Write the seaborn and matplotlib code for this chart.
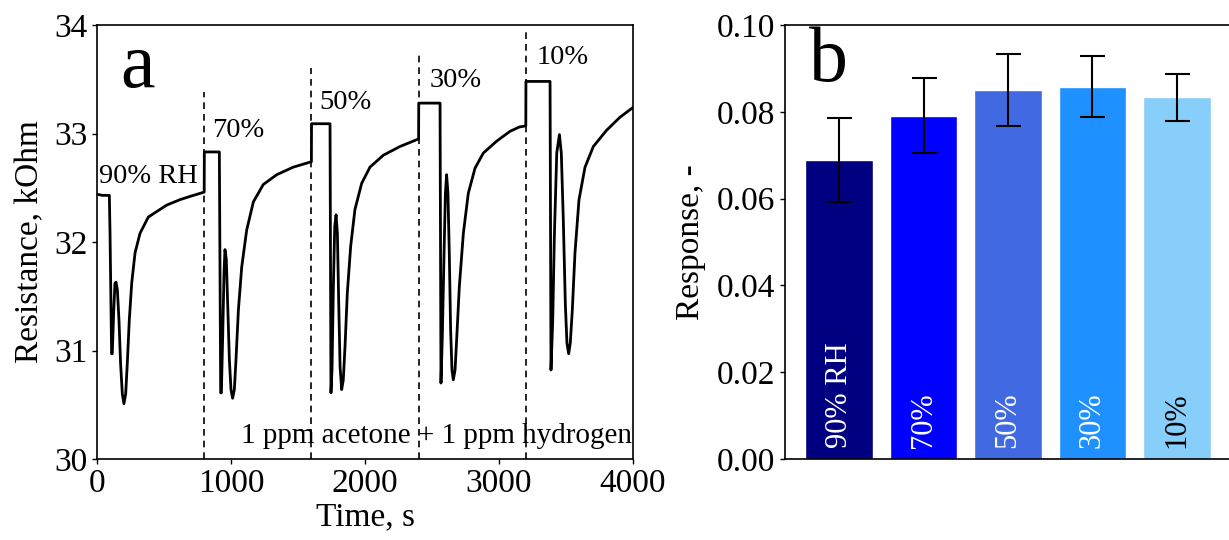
import numpy as np
import pandas as pd
import matplotlib
matplotlib.use("Agg")
import matplotlib.pyplot as plt
import seaborn as sns

# ---------------- data: panel a (resistance transient) ----------------
time_s = [
    0, 40, 92, 97, 109, 114, 124, 134, 142, 152, 164, 176, 189, 201, 214, 226, 241, 259,
    284, 321, 383, 445, 520, 619, 694, 800,
    801, 913, 923, 928, 938, 948, 955, 965, 975, 988, 1000, 1012, 1025, 1037, 1055, 1080,
    1117, 1167, 1241, 1341, 1465, 1600,
    1601, 1739, 1746, 1754, 1764, 1774, 1784, 1794, 1804, 1814, 1826, 1838, 1851, 1868,
    1893, 1925, 1975, 2037, 2137, 2261, 2400,
    2401, 2560, 2567, 2577, 2590, 2600, 2609, 2619, 2629, 2639, 2649, 2659, 2672, 2684,
    2704, 2734, 2771, 2821, 2883, 2983, 3082, 3152, 3200,
    3201, 3381, 3388, 3401, 3413, 3431, 3451, 3465, 3480, 3495, 3507, 3520, 3532, 3547,
    3567, 3597, 3642, 3704, 3803, 3903, 4000,
]
resistance_kohm = [
    32.44, 32.43, 32.43, 32.10, 30.97, 30.97, 31.34, 31.62, 31.63, 31.56, 31.28, 30.88, 30.60,
    30.51, 30.60, 30.88, 31.28, 31.62, 31.90, 32.08, 32.23, 32.28, 32.34, 32.39, 32.42, 32.46,
    32.83, 32.83, 30.61, 30.61, 31.13, 31.72, 31.93, 31.84, 31.44, 30.91, 30.64, 30.56, 30.64,
    30.91, 31.37, 31.77, 32.11, 32.37, 32.53, 32.62, 32.69, 32.74,
    33.09, 33.09, 30.61, 30.83, 31.59, 32.14, 32.25, 32.08, 31.43, 30.85, 30.64, 30.73, 31.04,
    31.53, 31.96, 32.30, 32.54, 32.69, 32.80, 32.88, 32.95,
    33.28, 33.28, 30.70, 31.13, 31.90, 32.45, 32.62, 32.45, 31.90, 31.19, 30.82, 30.73, 30.82,
    31.10, 31.59, 32.08, 32.45, 32.68, 32.82, 32.93, 33.02, 33.06, 33.07,
    33.48, 33.48, 30.82, 31.28, 32.05, 32.82, 32.99, 32.82, 32.20, 31.43, 31.07, 30.97, 31.07,
    31.37, 31.90, 32.39, 32.69, 32.88, 33.03, 33.15, 33.24,
]
switch_times = [800, 1600, 2400, 3200]
switch_tops = [33.38, 33.60, 33.72, 33.95]
rh_labels_a = ["90% RH", "70%", "50%", "30%", "10%"]
rh_label_t = [15, 860, 1660, 2480, 3280]
rh_label_r = [32.60, 33.03, 33.29, 33.49, 33.70]
gas_label = "1 ppm acetone + 1 ppm hydrogen"

# ---------------- data: panel b (response bars) ----------------
rh_categories = ["90% RH", "70%", "50%", "30%", "10%"]
response = [0.0689, 0.0791, 0.0851, 0.0858, 0.0833]
response_err = [0.0097, 0.0087, 0.0083, 0.0070, 0.0055]
bar_colors = ["#000080", "#0000FF", "#4169E1", "#1E90FF", "#87CEFA"]
bar_text_colors = ["white", "white", "white", "white", "black"]

# ---------------- style ----------------
sns.set_style("ticks")
plt.rcParams["font.family"] = ["Liberation Serif", "DejaVu Serif"]
plt.rcParams["text.color"] = "black"
plt.rcParams["axes.labelcolor"] = "black"
plt.rcParams["axes.linewidth"] = 1.2
plt.rcParams["xtick.major.width"] = 1.0
plt.rcParams["ytick.major.width"] = 1.0
plt.rcParams["xtick.major.size"] = 3.5
plt.rcParams["ytick.major.size"] = 3.5
plt.rcParams["xtick.color"] = "black"
plt.rcParams["ytick.color"] = "black"
plt.rcParams["xtick.labelcolor"] = "black"
plt.rcParams["ytick.labelcolor"] = "black"
plt.rcParams["axes.edgecolor"] = "black"

W, H = 1229, 540
fig = plt.figure(figsize=(W / 100, H / 100), dpi=100)

axa = fig.add_axes([97 / W, (H - 459) / H, (633 - 97) / W, (459 - 25) / H])
axb = fig.add_axes([785 / W, (H - 459) / H, (1231 - 785) / W, (459 - 25) / H])

# ---------------- panel a ----------------
df_a = pd.DataFrame({"Time": time_s, "Resistance": resistance_kohm})
sns.lineplot(data=df_a, x="Time", y="Resistance", ax=axa, color="black",
             linewidth=2.0, sort=False, estimator=None)
for ts, top in zip(switch_times, switch_tops):
    axa.plot([ts, ts], [30, top], color="black", linestyle=(0, (4, 3)), linewidth=1.2)
for lab, t, r in zip(rh_labels_a, rh_label_t, rh_label_r):
    axa.text(t, r, lab, fontsize=20.5, ha="left", va="center", color="black")
axa.text(2530, 30.21, gas_label, fontsize=21, ha="center", va="center", color="black")
axa.text(300, 33.6, "a", fontsize=56, ha="center", va="center", color="black")

axa.set_xlim(0, 4000)
axa.set_ylim(30, 34)
axa.set_xticks([0, 1000, 2000, 3000, 4000])
axa.set_yticks([30, 31, 32, 33, 34])
axa.tick_params(labelsize=24, direction="out", colors="black")
axa.set_xlabel("Time, s", fontsize=24, labelpad=2, color="black")
axa.set_ylabel("Resistance, kOhm", fontsize=24, labelpad=6, color="black")
for s in axa.spines.values():
    s.set_visible(True)
    s.set_color("black")

# ---------------- panel b ----------------
df_b = pd.DataFrame({"RH": rh_categories, "Response": response})
sns.barplot(data=df_b, x="RH", y="Response", hue="RH", palette=bar_colors,
            ax=axb, width=0.8, legend=False, saturation=1)
centers = [p.get_x() + p.get_width() / 2 for p in axb.patches]
axb.errorbar(centers, response, yerr=response_err, fmt="none", ecolor="black",
             elinewidth=1.5, capsize=9, capthick=1.5)
for c, lab, col in zip(centers, rh_categories, bar_text_colors):
    axb.text(c, 0.0025, lab, rotation=90, ha="center", va="bottom",
             fontsize=22, color=col)
axb.text(-0.13, 0.0915, "b", fontsize=56, ha="center", va="center", color="black")

axb.set_xlim(-0.64, 4.64)
axb.set_ylim(0, 0.10)
axb.set_yticks([0.00, 0.02, 0.04, 0.06, 0.08, 0.10])
axb.set_yticklabels([f"{v:.2f}" for v in [0.00, 0.02, 0.04, 0.06, 0.08, 0.10]])
axb.set_xticks([])
axb.set_xlabel("")
axb.tick_params(labelsize=24, direction="out", colors="black")
axb.set_ylabel("Response, -", fontsize=24, labelpad=8, color="black")
for s in axb.spines.values():
    s.set_visible(True)
    s.set_color("black")

fig.savefig("out.png", dpi=100)
